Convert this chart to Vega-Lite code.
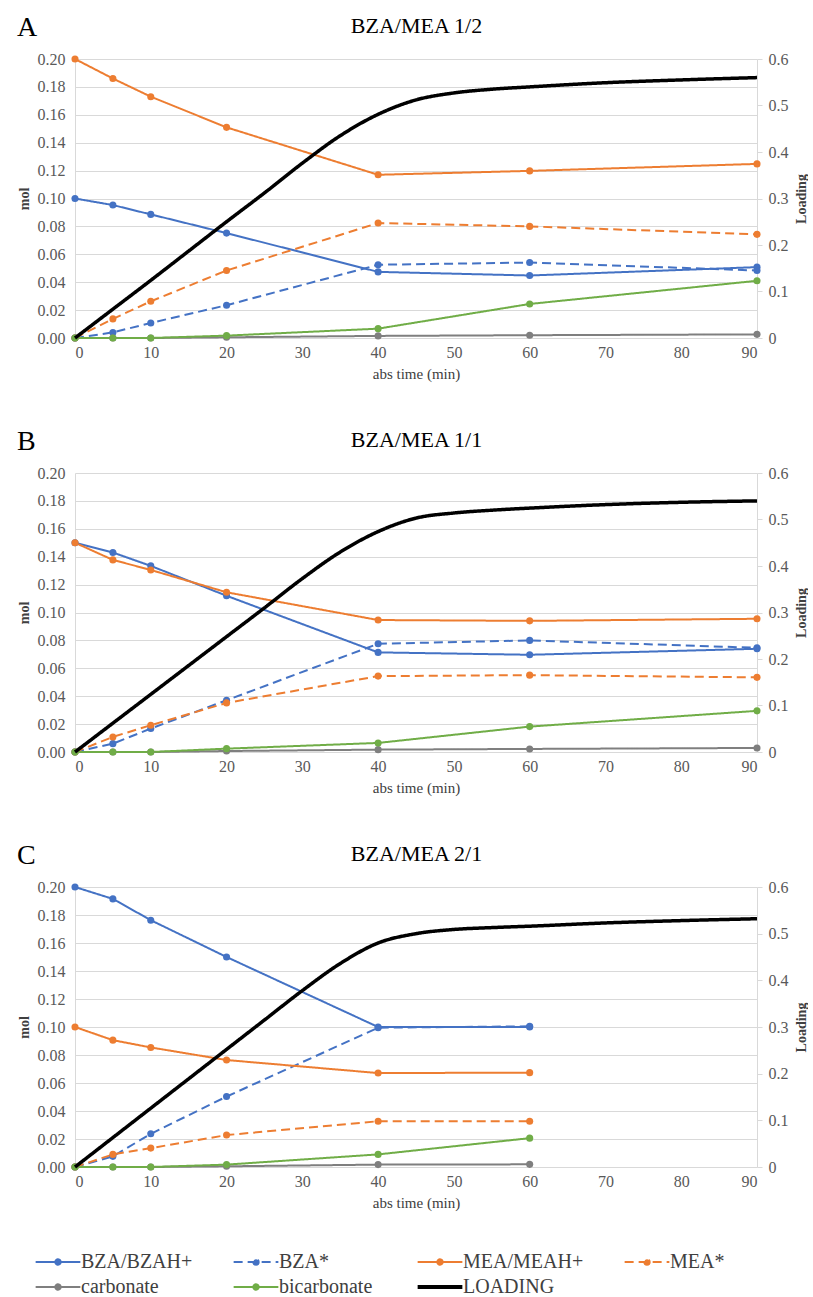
{
  "$schema": "https://vega.github.io/schema/vega-lite/v6.json",
  "padding": {"left": 17, "top": 14, "right": 0, "bottom": 0},
  "config": {
    "font": "Liberation Serif",
    "view": {"stroke": null},
    "axis": {
      "labelFont": "Liberation Serif", "labelFontSize": 16, "labelColor": "#595959",
      "titleFont": "Liberation Serif", "titleColor": "#404040",
      "domainColor": "#d9d9d9", "gridColor": "#d9d9d9", "tickColor": "#d9d9d9"
    },
    "title": {"font": "Liberation Serif", "fontWeight": "normal", "color": "#000000"},
    "legend": {
      "orient": "none", "legendX": -27, "legendY": 1193, "direction": "horizontal", "columns": 4,
      "labelFontSize": 20, "labelColor": "#404040",
      "symbolType": "M-1,0H1M0.12,0A0.12,0.12,0,1,1,-0.12,0A0.12,0.12,0,1,1,0.12,0",
      "symbolSize": 2000, "symbolStrokeWidth": 2, "columnPadding": 36, "rowPadding": 5, "labelOffset": 13
    }
  },
  "datasets": {
    "mol": [
      {"p":"A","t":0,"s":"BZA/BZAH+","v":0.100},{"p":"A","t":5,"s":"BZA/BZAH+","v":0.0953},{"p":"A","t":10,"s":"BZA/BZAH+","v":0.0886},{"p":"A","t":20,"s":"BZA/BZAH+","v":0.0752},{"p":"A","t":40,"s":"BZA/BZAH+","v":0.0474},{"p":"A","t":60,"s":"BZA/BZAH+","v":0.0448},{"p":"A","t":90,"s":"BZA/BZAH+","v":0.0508},
      {"p":"A","t":0,"s":"BZA*","v":0},{"p":"A","t":5,"s":"BZA*","v":0.004},{"p":"A","t":10,"s":"BZA*","v":0.0108},{"p":"A","t":20,"s":"BZA*","v":0.0235},{"p":"A","t":40,"s":"BZA*","v":0.0525},{"p":"A","t":60,"s":"BZA*","v":0.0541},{"p":"A","t":90,"s":"BZA*","v":0.0484},
      {"p":"A","t":0,"s":"MEA/MEAH+","v":0.200},{"p":"A","t":5,"s":"MEA/MEAH+","v":0.186},{"p":"A","t":10,"s":"MEA/MEAH+","v":0.173},{"p":"A","t":20,"s":"MEA/MEAH+","v":0.151},{"p":"A","t":40,"s":"MEA/MEAH+","v":0.117},{"p":"A","t":60,"s":"MEA/MEAH+","v":0.1198},{"p":"A","t":90,"s":"MEA/MEAH+","v":0.1248},
      {"p":"A","t":0,"s":"MEA*","v":0},{"p":"A","t":5,"s":"MEA*","v":0.0137},{"p":"A","t":10,"s":"MEA*","v":0.0263},{"p":"A","t":20,"s":"MEA*","v":0.0484},{"p":"A","t":40,"s":"MEA*","v":0.0824},{"p":"A","t":60,"s":"MEA*","v":0.080},{"p":"A","t":90,"s":"MEA*","v":0.0743},
      {"p":"A","t":0,"s":"carbonate","v":0},{"p":"A","t":5,"s":"carbonate","v":0},{"p":"A","t":10,"s":"carbonate","v":0},{"p":"A","t":20,"s":"carbonate","v":0.0005},{"p":"A","t":40,"s":"carbonate","v":0.0015},{"p":"A","t":60,"s":"carbonate","v":0.002},{"p":"A","t":90,"s":"carbonate","v":0.0026},
      {"p":"A","t":0,"s":"bicarbonate","v":0},{"p":"A","t":5,"s":"bicarbonate","v":0},{"p":"A","t":10,"s":"bicarbonate","v":0},{"p":"A","t":20,"s":"bicarbonate","v":0.0017},{"p":"A","t":40,"s":"bicarbonate","v":0.0067},{"p":"A","t":60,"s":"bicarbonate","v":0.0244},{"p":"A","t":90,"s":"bicarbonate","v":0.041},

      {"p":"B","t":0,"s":"BZA/BZAH+","v":0.150},{"p":"B","t":5,"s":"BZA/BZAH+","v":0.143},{"p":"B","t":10,"s":"BZA/BZAH+","v":0.1334},{"p":"B","t":20,"s":"BZA/BZAH+","v":0.112},{"p":"B","t":40,"s":"BZA/BZAH+","v":0.0714},{"p":"B","t":60,"s":"BZA/BZAH+","v":0.0697},{"p":"B","t":90,"s":"BZA/BZAH+","v":0.074},
      {"p":"B","t":0,"s":"BZA*","v":0},{"p":"B","t":5,"s":"BZA*","v":0.006},{"p":"B","t":10,"s":"BZA*","v":0.0168},{"p":"B","t":20,"s":"BZA*","v":0.0371},{"p":"B","t":40,"s":"BZA*","v":0.0776},{"p":"B","t":60,"s":"BZA*","v":0.080},{"p":"B","t":90,"s":"BZA*","v":0.0747},
      {"p":"B","t":0,"s":"MEA/MEAH+","v":0.150},{"p":"B","t":5,"s":"MEA/MEAH+","v":0.1377},{"p":"B","t":10,"s":"MEA/MEAH+","v":0.1305},{"p":"B","t":20,"s":"MEA/MEAH+","v":0.1145},{"p":"B","t":40,"s":"MEA/MEAH+","v":0.0946},{"p":"B","t":60,"s":"MEA/MEAH+","v":0.094},{"p":"B","t":90,"s":"MEA/MEAH+","v":0.0955},
      {"p":"B","t":0,"s":"MEA*","v":0},{"p":"B","t":5,"s":"MEA*","v":0.0108},{"p":"B","t":10,"s":"MEA*","v":0.0192},{"p":"B","t":20,"s":"MEA*","v":0.0352},{"p":"B","t":40,"s":"MEA*","v":0.0544},{"p":"B","t":60,"s":"MEA*","v":0.0551},{"p":"B","t":90,"s":"MEA*","v":0.0535},
      {"p":"B","t":0,"s":"carbonate","v":0},{"p":"B","t":5,"s":"carbonate","v":0},{"p":"B","t":10,"s":"carbonate","v":0},{"p":"B","t":20,"s":"carbonate","v":0.0007},{"p":"B","t":40,"s":"carbonate","v":0.0017},{"p":"B","t":60,"s":"carbonate","v":0.0022},{"p":"B","t":90,"s":"carbonate","v":0.0029},
      {"p":"B","t":0,"s":"bicarbonate","v":0},{"p":"B","t":5,"s":"bicarbonate","v":0},{"p":"B","t":10,"s":"bicarbonate","v":0},{"p":"B","t":20,"s":"bicarbonate","v":0.0024},{"p":"B","t":40,"s":"bicarbonate","v":0.0065},{"p":"B","t":60,"s":"bicarbonate","v":0.0182},{"p":"B","t":90,"s":"bicarbonate","v":0.0295},

      {"p":"C","t":0,"s":"BZA/BZAH+","v":0.200},{"p":"C","t":5,"s":"BZA/BZAH+","v":0.1915},{"p":"C","t":10,"s":"BZA/BZAH+","v":0.1763},{"p":"C","t":20,"s":"BZA/BZAH+","v":0.150},{"p":"C","t":40,"s":"BZA/BZAH+","v":0.100},{"p":"C","t":60,"s":"BZA/BZAH+","v":0.100},
      {"p":"C","t":0,"s":"BZA*","v":0},{"p":"C","t":5,"s":"BZA*","v":0.0076},{"p":"C","t":10,"s":"BZA*","v":0.0237},{"p":"C","t":20,"s":"BZA*","v":0.0503},{"p":"C","t":40,"s":"BZA*","v":0.0995},{"p":"C","t":60,"s":"BZA*","v":0.1005},
      {"p":"C","t":0,"s":"MEA/MEAH+","v":0.100},{"p":"C","t":5,"s":"MEA/MEAH+","v":0.0906},{"p":"C","t":10,"s":"MEA/MEAH+","v":0.0854},{"p":"C","t":20,"s":"MEA/MEAH+","v":0.0764},{"p":"C","t":40,"s":"MEA/MEAH+","v":0.0671},{"p":"C","t":60,"s":"MEA/MEAH+","v":0.0674},
      {"p":"C","t":0,"s":"MEA*","v":0},{"p":"C","t":5,"s":"MEA*","v":0.009},{"p":"C","t":10,"s":"MEA*","v":0.0135},{"p":"C","t":20,"s":"MEA*","v":0.0228},{"p":"C","t":40,"s":"MEA*","v":0.0327},{"p":"C","t":60,"s":"MEA*","v":0.0327},
      {"p":"C","t":0,"s":"carbonate","v":0},{"p":"C","t":5,"s":"carbonate","v":0},{"p":"C","t":10,"s":"carbonate","v":0},{"p":"C","t":20,"s":"carbonate","v":0.0005},{"p":"C","t":40,"s":"carbonate","v":0.0017},{"p":"C","t":60,"s":"carbonate","v":0.0019},
      {"p":"C","t":0,"s":"bicarbonate","v":0},{"p":"C","t":5,"s":"bicarbonate","v":0},{"p":"C","t":10,"s":"bicarbonate","v":0},{"p":"C","t":20,"s":"bicarbonate","v":0.0017},{"p":"C","t":40,"s":"bicarbonate","v":0.009},{"p":"C","t":60,"s":"bicarbonate","v":0.0206}
    ],
    "load": [
      {"p":"A","t":0,"s":"LOADING","L":0},{"p":"A","t":5,"s":"LOADING","L":0.062},{"p":"A","t":10,"s":"LOADING","L":0.124},{"p":"A","t":15,"s":"LOADING","L":0.187},{"p":"A","t":20,"s":"LOADING","L":0.25},{"p":"A","t":25,"s":"LOADING","L":0.312},{"p":"A","t":30,"s":"LOADING","L":0.376},{"p":"A","t":35,"s":"LOADING","L":0.435},{"p":"A","t":40,"s":"LOADING","L":0.481},{"p":"A","t":45,"s":"LOADING","L":0.512},{"p":"A","t":50,"s":"LOADING","L":0.527},{"p":"A","t":55,"s":"LOADING","L":0.535},{"p":"A","t":60,"s":"LOADING","L":0.540},{"p":"A","t":70,"s":"LOADING","L":0.549},{"p":"A","t":80,"s":"LOADING","L":0.555},{"p":"A","t":90,"s":"LOADING","L":0.560},
      {"p":"B","t":0,"s":"LOADING","L":0},{"p":"B","t":5,"s":"LOADING","L":0.062},{"p":"B","t":10,"s":"LOADING","L":0.124},{"p":"B","t":15,"s":"LOADING","L":0.186},{"p":"B","t":20,"s":"LOADING","L":0.248},{"p":"B","t":25,"s":"LOADING","L":0.31},{"p":"B","t":30,"s":"LOADING","L":0.373},{"p":"B","t":35,"s":"LOADING","L":0.43},{"p":"B","t":40,"s":"LOADING","L":0.474},{"p":"B","t":45,"s":"LOADING","L":0.503},{"p":"B","t":50,"s":"LOADING","L":0.514},{"p":"B","t":55,"s":"LOADING","L":0.52},{"p":"B","t":60,"s":"LOADING","L":0.5245},{"p":"B","t":70,"s":"LOADING","L":0.532},{"p":"B","t":80,"s":"LOADING","L":0.537},{"p":"B","t":90,"s":"LOADING","L":0.540},
      {"p":"C","t":0,"s":"LOADING","L":0},{"p":"C","t":5,"s":"LOADING","L":0.063},{"p":"C","t":10,"s":"LOADING","L":0.126},{"p":"C","t":15,"s":"LOADING","L":0.189},{"p":"C","t":20,"s":"LOADING","L":0.252},{"p":"C","t":25,"s":"LOADING","L":0.315},{"p":"C","t":30,"s":"LOADING","L":0.378},{"p":"C","t":35,"s":"LOADING","L":0.436},{"p":"C","t":40,"s":"LOADING","L":0.48},{"p":"C","t":45,"s":"LOADING","L":0.5},{"p":"C","t":50,"s":"LOADING","L":0.509},{"p":"C","t":55,"s":"LOADING","L":0.513},{"p":"C","t":60,"s":"LOADING","L":0.516},{"p":"C","t":70,"s":"LOADING","L":0.523},{"p":"C","t":80,"s":"LOADING","L":0.528},{"p":"C","t":90,"s":"LOADING","L":0.532}
    ]
  },
  "spacing": 47,
  "vconcat": [
    {
      "title": {"text": "A", "anchor": "start", "frame": "bounds", "fontSize": 28, "offset": -28},
      "width": 682, "height": 279,
      "layer": [
        {
          "data": {"name": "mol"},
          "transform": [{"filter": "datum.p === 'A'"}],
          "encoding": {
            "x": {"field": "t", "type": "quantitative", "scale": {"domain": [0, 90], "nice": false}, "axis": {"title": "abs time (min)", "values": [0,10,20,30,40,50,60,70,80,90], "grid": false, "ticks": false, "domain": false, "labelFont": "Liberation Serif", "labelFontSize": 16, "labelPadding": 6, "titleFont": "Liberation Serif", "titleFontSize": 15, "titleFontWeight": "normal", "titlePadding": 6}},
            "y": {"field": "v", "type": "quantitative", "scale": {"domain": [0, 0.2], "nice": false}, "axis": {"title": "mol", "values": [0,0.02,0.04,0.06,0.08,0.1,0.12,0.14,0.16,0.18,0.2], "format": ".2f", "grid": true, "ticks": false, "domain": true, "labelFont": "Liberation Serif", "labelFontSize": 16, "labelPadding": 10, "titleFont": "Liberation Serif", "titleFontSize": 14, "titleFontWeight": "bold", "titlePadding": 6}},
            "color": {"field": "s", "type": "nominal", "scale": {"domain": ["BZA/BZAH+","BZA*","MEA/MEAH+","MEA*","carbonate","bicarbonate","LOADING"], "range": ["#4472C4","#4472C4","#ED7D31","#ED7D31","#7F7F7F","#70AD47","#000000"]}, "legend": {"title": null, "labelFont": "Times New Roman", "labelFontSize": 20, "labelOffset": 13, "encode": {"labels": {"update": {"font": {"value": "Liberation Serif, Times New Roman, serif"}}}, "symbols": {"update": {"shape": {"signal": "datum.value === 'LOADING' ? 'M-1,0H1' : 'M-1,0H1M0.12,0A0.12,0.12,0,1,1,-0.12,0A0.12,0.12,0,1,1,0.12,0'"}, "strokeWidth": {"signal": "datum.value === 'LOADING' ? 4 : 2"}, "fill": {"scale": "color", "field": "value"}, "fillOpacity": {"value": 1}}}}}}
          },
          "layer": [
            {"mark": {"type": "line", "strokeWidth": 2}, "encoding": {"strokeDash": {"field": "s", "type": "nominal", "scale": {"domain": ["BZA/BZAH+","BZA*","MEA/MEAH+","MEA*","carbonate","bicarbonate","LOADING"], "range": [[1,0],[9,5],[1,0],[9,5],[1,0],[1,0],[1,0]]}, "legend": {"title": null, "labelFont": "Times New Roman", "labelFontSize": 20, "labelOffset": 13}}}},
            {"mark": {"type": "point", "filled": true, "size": 50, "opacity": 1}}
          ]
        },
        {
          "data": {"name": "load"},
          "transform": [{"filter": "datum.p === 'A'"}],
          "mark": {"type": "line", "strokeWidth": 3.5, "interpolate": "monotone"},
          "encoding": {
            "x": {"field": "t", "type": "quantitative", "scale": {"domain": [0, 90], "nice": false}, "axis": {"orient": "top", "title": "BZA/MEA 1/2", "labels": false, "ticks": false, "domain": false, "grid": false, "titleFont": "Liberation Serif", "titleFontSize": 22, "titleFontWeight": "normal", "titleColor": "#000000", "titlePadding": 22}},
            "y": {"field": "L", "type": "quantitative", "scale": {"domain": [0, 0.6], "nice": false}, "axis": {"orient": "right", "title": "Loading", "values": [0,0.1,0.2,0.3,0.4,0.5,0.6], "format": ".1~f", "grid": false, "ticks": true, "tickSize": 5, "domain": true, "labelFont": "Liberation Serif", "labelFontSize": 16, "labelPadding": 6, "titleFont": "Liberation Serif", "titleFontSize": 14, "titleFontWeight": "bold", "titleAngle": 270, "titleBaseline": "top", "titlePadding": 6}},
            "color": {"field": "s", "type": "nominal", "legend": {"title": null, "labelFont": "Times New Roman", "labelFontSize": 20, "labelOffset": 13}},
            "strokeDash": {"field": "s", "type": "nominal", "legend": {"title": null, "labelFont": "Times New Roman", "labelFontSize": 20, "labelOffset": 13}}
          }
        }
      ],
      "resolve": {"scale": {"y": "independent"}, "axis": {"x": "independent"}}
    },
    {
      "title": {"text": "B", "anchor": "start", "frame": "bounds", "fontSize": 28, "offset": -28},
      "width": 682, "height": 279,
      "layer": [
        {
          "data": {"name": "mol"},
          "transform": [{"filter": "datum.p === 'B'"}],
          "encoding": {
            "x": {"field": "t", "type": "quantitative", "scale": {"domain": [0, 90], "nice": false}, "axis": {"title": "abs time (min)", "values": [0,10,20,30,40,50,60,70,80,90], "grid": false, "ticks": false, "domain": false, "labelFont": "Liberation Serif", "labelFontSize": 16, "labelPadding": 6, "titleFont": "Liberation Serif", "titleFontSize": 15, "titleFontWeight": "normal", "titlePadding": 6}},
            "y": {"field": "v", "type": "quantitative", "scale": {"domain": [0, 0.2], "nice": false}, "axis": {"title": "mol", "values": [0,0.02,0.04,0.06,0.08,0.1,0.12,0.14,0.16,0.18,0.2], "format": ".2f", "grid": true, "ticks": false, "domain": true, "labelFont": "Liberation Serif", "labelFontSize": 16, "labelPadding": 10, "titleFont": "Liberation Serif", "titleFontSize": 14, "titleFontWeight": "bold", "titlePadding": 6}},
            "color": {"field": "s", "type": "nominal", "legend": {"title": null, "labelFont": "Times New Roman", "labelFontSize": 20, "labelOffset": 13}}
          },
          "layer": [
            {"mark": {"type": "line", "strokeWidth": 2}, "encoding": {"strokeDash": {"field": "s", "type": "nominal", "legend": {"title": null, "labelFont": "Times New Roman", "labelFontSize": 20, "labelOffset": 13}}}},
            {"mark": {"type": "point", "filled": true, "size": 50, "opacity": 1}}
          ]
        },
        {
          "data": {"name": "load"},
          "transform": [{"filter": "datum.p === 'B'"}],
          "mark": {"type": "line", "strokeWidth": 3.5, "interpolate": "monotone"},
          "encoding": {
            "x": {"field": "t", "type": "quantitative", "scale": {"domain": [0, 90], "nice": false}, "axis": {"orient": "top", "title": "BZA/MEA 1/1", "labels": false, "ticks": false, "domain": false, "grid": false, "titleFont": "Liberation Serif", "titleFontSize": 22, "titleFontWeight": "normal", "titleColor": "#000000", "titlePadding": 22}},
            "y": {"field": "L", "type": "quantitative", "scale": {"domain": [0, 0.6], "nice": false}, "axis": {"orient": "right", "title": "Loading", "values": [0,0.1,0.2,0.3,0.4,0.5,0.6], "format": ".1~f", "grid": false, "ticks": true, "tickSize": 5, "domain": true, "labelFont": "Liberation Serif", "labelFontSize": 16, "labelPadding": 6, "titleFont": "Liberation Serif", "titleFontSize": 14, "titleFontWeight": "bold", "titleAngle": 270, "titleBaseline": "top", "titlePadding": 6}},
            "color": {"field": "s", "type": "nominal", "legend": {"title": null, "labelFont": "Times New Roman", "labelFontSize": 20, "labelOffset": 13}},
            "strokeDash": {"field": "s", "type": "nominal", "legend": {"title": null, "labelFont": "Times New Roman", "labelFontSize": 20, "labelOffset": 13}}
          }
        }
      ],
      "resolve": {"scale": {"y": "independent"}, "axis": {"x": "independent"}}
    },
    {
      "title": {"text": "C", "anchor": "start", "frame": "bounds", "fontSize": 28, "offset": -28},
      "width": 682, "height": 280,
      "layer": [
        {
          "data": {"name": "mol"},
          "transform": [{"filter": "datum.p === 'C'"}],
          "encoding": {
            "x": {"field": "t", "type": "quantitative", "scale": {"domain": [0, 90], "nice": false}, "axis": {"title": "abs time (min)", "values": [0,10,20,30,40,50,60,70,80,90], "grid": false, "ticks": false, "domain": false, "labelFont": "Liberation Serif", "labelFontSize": 16, "labelPadding": 6, "titleFont": "Liberation Serif", "titleFontSize": 15, "titleFontWeight": "normal", "titlePadding": 6}},
            "y": {"field": "v", "type": "quantitative", "scale": {"domain": [0, 0.2], "nice": false}, "axis": {"title": "mol", "values": [0,0.02,0.04,0.06,0.08,0.1,0.12,0.14,0.16,0.18,0.2], "format": ".2f", "grid": true, "ticks": false, "domain": true, "labelFont": "Liberation Serif", "labelFontSize": 16, "labelPadding": 10, "titleFont": "Liberation Serif", "titleFontSize": 14, "titleFontWeight": "bold", "titlePadding": 6}},
            "color": {"field": "s", "type": "nominal", "legend": {"title": null, "labelFont": "Times New Roman", "labelFontSize": 20, "labelOffset": 13}}
          },
          "layer": [
            {"mark": {"type": "line", "strokeWidth": 2}, "encoding": {"strokeDash": {"field": "s", "type": "nominal", "legend": {"title": null, "labelFont": "Times New Roman", "labelFontSize": 20, "labelOffset": 13}}}},
            {"mark": {"type": "point", "filled": true, "size": 50, "opacity": 1}}
          ]
        },
        {
          "data": {"name": "load"},
          "transform": [{"filter": "datum.p === 'C'"}],
          "mark": {"type": "line", "strokeWidth": 3.5, "interpolate": "monotone"},
          "encoding": {
            "x": {"field": "t", "type": "quantitative", "scale": {"domain": [0, 90], "nice": false}, "axis": {"orient": "top", "title": "BZA/MEA 2/1", "labels": false, "ticks": false, "domain": false, "grid": false, "titleFont": "Liberation Serif", "titleFontSize": 22, "titleFontWeight": "normal", "titleColor": "#000000", "titlePadding": 22}},
            "y": {"field": "L", "type": "quantitative", "scale": {"domain": [0, 0.6], "nice": false}, "axis": {"orient": "right", "title": "Loading", "values": [0,0.1,0.2,0.3,0.4,0.5,0.6], "format": ".1~f", "grid": false, "ticks": true, "tickSize": 5, "domain": true, "labelFont": "Liberation Serif", "labelFontSize": 16, "labelPadding": 6, "titleFont": "Liberation Serif", "titleFontSize": 14, "titleFontWeight": "bold", "titleAngle": 270, "titleBaseline": "top", "titlePadding": 6}},
            "color": {"field": "s", "type": "nominal", "legend": {"title": null, "labelFont": "Times New Roman", "labelFontSize": 20, "labelOffset": 13}},
            "strokeDash": {"field": "s", "type": "nominal", "legend": {"title": null, "labelFont": "Times New Roman", "labelFontSize": 20, "labelOffset": 13}}
          }
        }
      ],
      "resolve": {"scale": {"y": "independent"}, "axis": {"x": "independent"}}
    }
  ]
}
